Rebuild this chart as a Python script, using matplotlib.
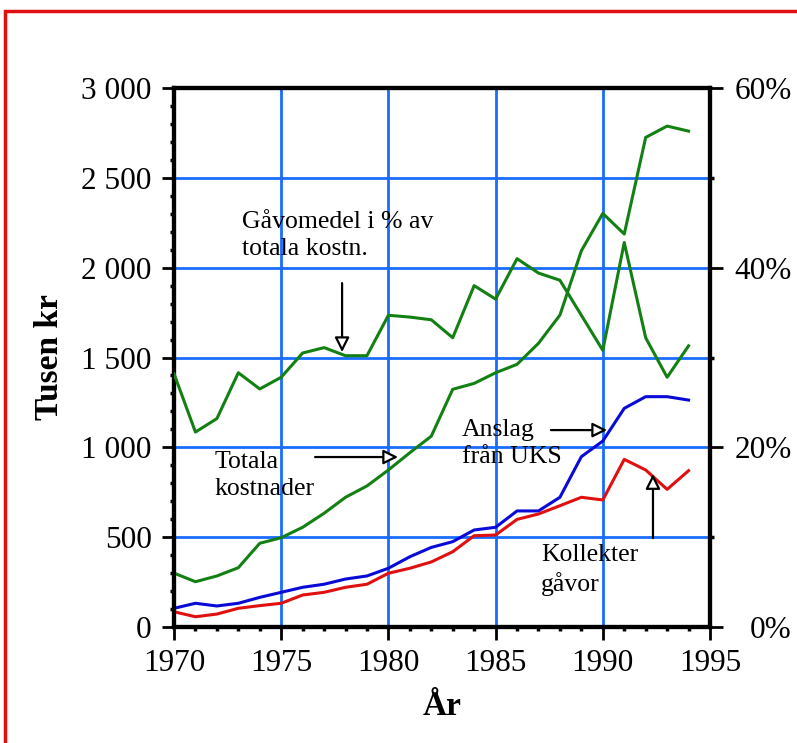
import matplotlib
matplotlib.use('Agg')
import matplotlib.pyplot as plt
from matplotlib.patches import Rectangle
from matplotlib.ticker import MultipleLocator, FuncFormatter

plt.rcParams['font.family'] = ['Liberation Serif', 'DejaVu Serif']

years = list(range(1970, 1995))
totala_kostnader = [300, 252, 284, 330, 466, 497, 555, 633, 722, 785, 874, 970, 1062,
                    1323, 1356, 1415, 1462, 1579, 1736, 2094, 2302, 2187, 2725, 2788, 2760]
anslag_uks = [104, 132, 117, 132, 165, 193, 221, 238, 267, 284, 327, 391, 443,
              475, 540, 555, 646, 646, 722, 948, 1035, 1217, 1282, 1282, 1263]
kollekter_gavor = [85, 57, 72, 104, 119, 132, 178, 193, 221, 238, 299, 327, 362,
                   419, 508, 512, 599, 629, 675, 722, 707, 933, 874, 766, 870]
gavomedel_pct = [28.2, 21.7, 23.2, 28.3, 26.5, 27.8, 30.5, 31.1, 30.2, 30.2, 34.7, 34.5, 34.2,
                 32.2, 38.0, 36.5, 41.0, 39.4, 38.6, 34.7, 30.8, 42.8, 32.2, 27.8, 31.3]

fig = plt.figure(figsize=(7.97, 7.43), dpi=100)
ax = fig.add_axes([174 / 797, 1 - 627 / 743, 536 / 797, 539 / 743])
ax2 = ax.twinx()

grid_c = '#1a6cff'
for x in [1975, 1980, 1985, 1990]:
    ax.axvline(x, color=grid_c, lw=2, zorder=1)
for y in [500, 1000, 1500, 2000, 2500]:
    ax.axhline(y, color=grid_c, lw=2, zorder=1)

ax.plot(years, totala_kostnader, color='#138013', lw=2.2, zorder=3)
ax.plot(years, anslag_uks, color='#0a0ad8', lw=2.2, zorder=3)
ax.plot(years, kollekter_gavor, color='#e01010', lw=2.2, zorder=3)
ax2.plot(years, gavomedel_pct, color='#138013', lw=2.2, zorder=3)

ax.set_xlim(1970, 1995)
ax.set_ylim(0, 3000)
ax2.set_ylim(0, 60)

ax.xaxis.set_major_locator(MultipleLocator(5))
ax.xaxis.set_minor_locator(MultipleLocator(1))
ax.yaxis.set_major_locator(MultipleLocator(500))
ax.yaxis.set_minor_locator(MultipleLocator(100))
ax.yaxis.set_major_formatter(FuncFormatter(lambda v, p: f'{int(v):,}'.replace(',', ' ')))
ax2.yaxis.set_major_locator(MultipleLocator(20))
ax2.yaxis.set_minor_locator(MultipleLocator(10))
ax2.yaxis.set_major_formatter(FuncFormatter(lambda v, p: f'{int(v)}%'))

for a in (ax, ax2):
    for s in a.spines.values():
        s.set_linewidth(3)
ax.tick_params(axis='both', which='major', direction='out', length=9, width=2,
               labelsize=22.5, pad=7)
ax.tick_params(axis='both', which='minor', direction='out', length=3, width=2.5)
ax2.tick_params(axis='y', which='major', direction='out', length=9, width=2,
                labelsize=22.5, pad=50)
ax2.tick_params(axis='y', which='minor', direction='out', length=3, width=2.5)
for lab in ax2.get_yticklabels():
    lab.set_horizontalalignment('right')

ax.set_xlabel('År', fontsize=24, fontweight='bold', labelpad=9)
ax.set_ylabel('Tusen kr', fontsize=24, fontweight='bold', labelpad=12)

fs = 18.5
arrow = dict(arrowstyle='-|>', fc='white', ec='black', lw=1.6, mutation_scale=22,
             shrinkA=0, shrinkB=0)
ax.text(1973.17, 2315, 'Gåvomedel i % av\ntotala kostn.', fontsize=fs, va='top',
        ha='left', linespacing=1.3, zorder=5)
ax.annotate('', xy=(1977.84, 1530), xytext=(1977.84, 1914), arrowprops=arrow, zorder=5)
ax.text(1971.87, 980, 'Totala\nkostnader', fontsize=fs, va='top', ha='left',
        linespacing=1.3, zorder=5)
ax.annotate('', xy=(1980.45, 946), xytext=(1976.58, 946), arrowprops=arrow, zorder=5)
ax.text(1983.43, 1158, 'Anslag\nfrån UKS', fontsize=fs, va='top', ha='left',
        linespacing=1.3, zorder=5)
ax.annotate('', xy=(1990.2, 1096), xytext=(1987.58, 1096), arrowprops=arrow, zorder=5)
ax.text(1987.12, 462, 'Kollekter\ngåvor', fontsize=fs, va='top', ha='left',
        linespacing=1.3, zorder=5)
ax.annotate('', xy=(1992.34, 851), xytext=(1992.34, 495), arrowprops=arrow, zorder=5)

fig.add_artist(Rectangle((5 / 797, -0.2), 1.2, 1.2 - 11 / 743, transform=fig.transFigure,
                         fill=False, ec='#e01010', lw=2.5))

fig.savefig('out.png', dpi=100)
